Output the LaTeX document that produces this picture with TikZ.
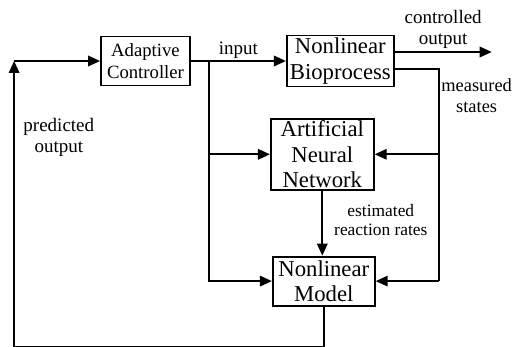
\documentclass[tikz,border=0pt]{standalone}
\usepackage{fontspec}
\setmainfont{Liberation Serif}
\usetikzlibrary{arrows.meta,positioning}

\begin{document}
\begin{tikzpicture}[x=1pt,y=-1pt,
box/.style={draw,line width=1.8pt,align=center,inner sep=0pt,font=\fontsize{22.7}{25.7}\selectfont},
lbl/.style={align=center,inner sep=0pt,font=\fontsize{19}{21}\selectfont},
ln/.style={line width=1.8pt},
arr/.style={-{Triangle[length=12pt,width=10.5pt]},line width=1.8pt}]
\useasboundingbox (0,0) rectangle (513,347);
% blocks
\node[box,minimum width=89pt,minimum height=49pt,font=\fontsize{18.7}{22}\selectfont] (ac) at (145.5,61) {Adaptive\\Controller};
\node[box,minimum width=107pt,minimum height=51pt,right=95pt of ac] (bio) {Nonlinear\\Bioprocess};
\node[box,minimum width=103pt,minimum height=71pt,below=30.5pt of bio,xshift=-18pt] (ann) {Artificial\\Neural\\Network};
\node[box,minimum width=102pt,minimum height=49pt,below=65pt of ann,xshift=1.5pt] (nm) {Nonlinear\\Model};
% junctions
\coordinate[right=18pt of ac] (br);
\coordinate[left=86pt of ac] (fl);
\coordinate (fbb) at ([yshift=-40.5pt]nm.south);
\coordinate (co) at ([xshift=97pt,yshift=9pt]bio.east);
\coordinate (ms) at ([xshift=44pt,yshift=-8pt]bio.east);
% connectors
\draw[arr] (ac) -- node[lbl,above=2pt] (inp) {input} (bio);
\draw[arr] (br) |- (nm);
\draw[arr] (br |- ann) -- (ann);
\draw[arr] ([yshift=9pt]bio.east) -- node[lbl,above=3pt] (cout) {controlled\\output} (co);
\draw[ln] ([yshift=-8pt]bio.east) -- (ms) -- (ms |- nm);
\draw[arr] (ms |- ann) -- (ann);
\draw[arr] (ms |- nm) -- (nm);
\node[lbl,below right=10pt and 2.5pt of ms,font=\fontsize{18.4}{20.5}\selectfont] (mst) {measured\\states};
\draw[arr] (ann.south) -- node[lbl,right=11pt,pos=0.45,font=\fontsize{17.4}{18.5}\selectfont] (est) {estimated\\reaction rates} (ann.south |- nm.north);
\draw[arr] (nm.south) -- (fbb) -| (fl);
\draw[arr] (fl) -- (ac);
\node[lbl] (pred) at (58.8,137) {predicted\\output};
\end{tikzpicture}
\end{document}
